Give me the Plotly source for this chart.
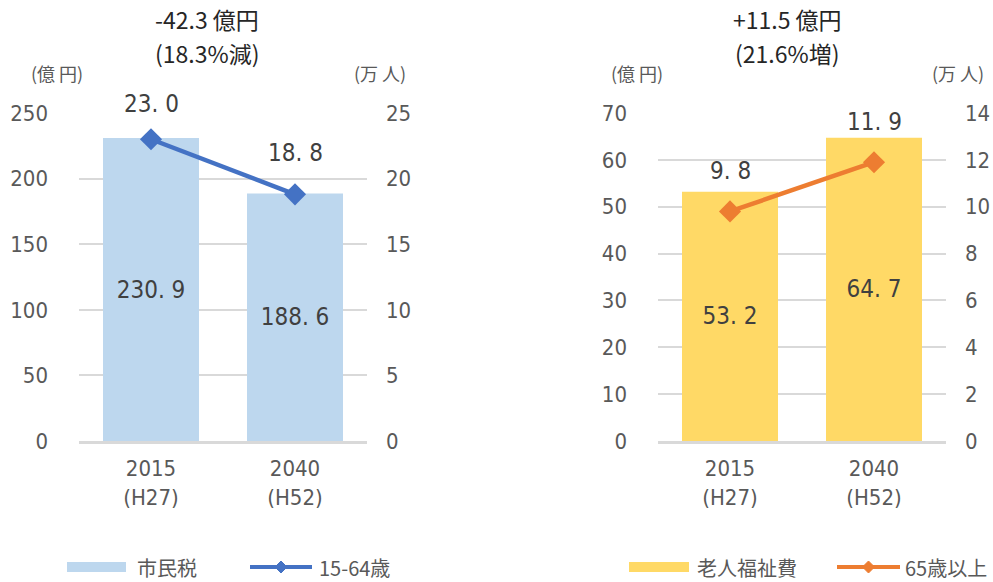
import plotly.graph_objects as go

# ---- data ----
categories = ["2015", "2040"]
category_labels = ["2015<br>(H27)", "2040<br>(H52)"]

tax_revenue = [230.9, 188.6]          # 市民税 (億円)
working_pop = [23.0, 18.8]            # 15-64歳 (万人)
elderly_welfare = [53.2, 64.7]        # 老人福祉費 (億円)
elderly_pop = [9.8, 11.9]             # 65歳以上 (万人)

left_title = ["-42.3 億円", "(18.3%減)"]
right_title = ["+11.5 億円", "(21.6%増)"]

W, H = 993, 582

NARROW = "DejaVu Sans Condensed, Liberation Sans Narrow, Roboto, sans-serif"
CJK = "Noto Sans CJK JP, sans-serif"
TICK_COLOR = "#595959"
LABEL_COLOR = "#404040"
GRID = "#D9D9D9"

BLUE_BAR, BLUE_LINE = "#BDD7EE", "#4472C4"
YELLOW_BAR, ORANGE_LINE = "#FFD966", "#ED7D31"

xpos = list(range(len(categories)))


def fmt(v):
    return f"{v:.1f}".replace(".", ". ")


def px_x(x):
    return x / W


def px_y(y):
    return 1 - y / H


fig = go.Figure()

# left panel: tax revenue vs working-age population
fig.add_trace(go.Bar(
    x=xpos, y=tax_revenue, xaxis="x", yaxis="y", width=2 / 3,
    marker=dict(color=BLUE_BAR, line=dict(width=0)),
    text=[fmt(v) for v in tax_revenue],
    textposition="inside", insidetextanchor="middle",
    textfont=dict(family=NARROW, size=24, color=LABEL_COLOR),
    showlegend=False, hoverinfo="skip",
))
fig.add_trace(go.Scatter(
    x=xpos, y=working_pop, xaxis="x", yaxis="y2",
    mode="lines+markers", line=dict(color=BLUE_LINE, width=4.5),
    marker=dict(symbol="diamond", size=17, color=BLUE_LINE),
    showlegend=False, hoverinfo="skip",
))

# right panel: elderly welfare cost vs elderly population
fig.add_trace(go.Bar(
    x=xpos, y=elderly_welfare, xaxis="x2", yaxis="y3", width=2 / 3,
    marker=dict(color=YELLOW_BAR, line=dict(width=0)),
    text=[fmt(v) for v in elderly_welfare],
    textposition="inside", insidetextanchor="middle",
    textfont=dict(family=NARROW, size=24, color=LABEL_COLOR),
    showlegend=False, hoverinfo="skip",
))
fig.add_trace(go.Scatter(
    x=xpos, y=elderly_pop, xaxis="x2", yaxis="y4",
    mode="lines+markers", line=dict(color=ORANGE_LINE, width=4.5),
    marker=dict(symbol="diamond", size=17, color=ORANGE_LINE),
    showlegend=False, hoverinfo="skip",
))

y_top, y_bot = 113, 441
ydom = [px_y(y_bot), px_y(y_top)]
tickfont = dict(family=NARROW, size=22, color=TICK_COLOR)

xcommon = dict(
    range=[-0.5, len(categories) - 0.5], tickvals=xpos, ticktext=category_labels,
    tickangle=0, tickfont=tickfont, showgrid=False, zeroline=False,
    showline=True, linecolor=GRID, linewidth=2.5, ticks="",
    ticklabelstandoff=6, automargin=False, fixedrange=True,
)
yprim = dict(
    domain=ydom, showgrid=True, gridcolor=GRID, gridwidth=1.5,
    zeroline=False, tickfont=tickfont, ticks="", ticklabelstandoff=30,
    automargin=False, fixedrange=True,
)
ysec = dict(
    domain=ydom, side="right", showgrid=False, zeroline=False,
    tickfont=tickfont, ticks="", ticklabelstandoff=18,
    automargin=False, fixedrange=True,
)

fig.update_layout(
    width=W, height=H,
    margin=dict(l=0, r=0, t=0, b=0, pad=0),
    paper_bgcolor="white", plot_bgcolor="rgba(0,0,0,0)",
    xaxis=dict(domain=[px_x(79), px_x(367)], anchor="y", **xcommon),
    yaxis=dict(anchor="x", range=[0, 250], dtick=50, **yprim),
    yaxis2=dict(anchor="x", overlaying="y", range=[0, 25], dtick=5, **ysec),
    xaxis2=dict(domain=[px_x(658), px_x(946)], anchor="y3", **xcommon),
    yaxis3=dict(anchor="x2", range=[0, 70], dtick=10, **yprim),
    yaxis4=dict(anchor="x2", overlaying="y3", range=[0, 14], dtick=2, **ysec),
)

annotations = []

# value labels above the line markers
for xa, ya, vals, shifts in (("x", "y2", working_pop, [35, 41]),
                             ("x2", "y4", elderly_pop, [40, 40])):
    for xp, v, s in zip(xpos, vals, shifts):
        annotations.append(dict(
            x=xp, y=v, xref=xa, yref=ya, text=fmt(v), showarrow=False,
            yshift=s, font=dict(family=NARROW, size=24, color=LABEL_COLOR),
        ))

# panel titles (two lines each)
for cx, lines in ((207, left_title), (787, right_title)):
    for cy, t in zip((19, 53), lines):
        annotations.append(dict(
            x=px_x(cx), y=px_y(cy), xref="paper", yref="paper", text=t,
            showarrow=False, xanchor="center", yanchor="middle",
            font=dict(family=CJK, size=23, color="#262626"),
        ))

# axis unit labels
for cx, t in ((57, "(億 円)"), (380, "(万 人)"), (637, "(億 円)"), (958, "(万 人)")):
    annotations.append(dict(
        x=px_x(cx), y=px_y(73), xref="paper", yref="paper", text=t,
        showarrow=False, xanchor="center", yanchor="middle",
        font=dict(family=CJK, size=18, color=TICK_COLOR),
    ))

# legends
shapes = []
legend_y = 567
bar_keys = ((67, 126, BLUE_BAR, "市民税", 135), (629, 689, YELLOW_BAR, "老人福祉費", 695))
line_keys = ((250, 312, BLUE_LINE, "15-64歳", 317), (837, 900, ORANGE_LINE, "65歳以上", 903))
for x0, x1, col, label, tx in bar_keys:
    shapes.append(dict(
        type="rect", xref="paper", yref="paper",
        x0=px_x(x0), x1=px_x(x1), y0=px_y(legend_y + 5), y1=px_y(legend_y - 5),
        fillcolor=col, line=dict(width=0),
    ))
    annotations.append(dict(
        x=px_x(tx), y=px_y(legend_y), xref="paper", yref="paper", text=label,
        showarrow=False, xanchor="left", yanchor="middle",
        font=dict(family=CJK, size=20, color=TICK_COLOR),
    ))
for x0, x1, col, label, tx in line_keys:
    shapes.append(dict(
        type="line", xref="paper", yref="paper",
        x0=px_x(x0), x1=px_x(x1), y0=px_y(legend_y), y1=px_y(legend_y),
        line=dict(color=col, width=4),
    ))
    cx, r = (x0 + x1) / 2, 6
    path = (f"M{px_x(cx - r)},{px_y(legend_y)} L{px_x(cx)},{px_y(legend_y - r)} "
            f"L{px_x(cx + r)},{px_y(legend_y)} L{px_x(cx)},{px_y(legend_y + r)} Z")
    shapes.append(dict(
        type="path", xref="paper", yref="paper", path=path,
        fillcolor=col, line=dict(color=col, width=1),
    ))
    annotations.append(dict(
        x=px_x(tx), y=px_y(legend_y), xref="paper", yref="paper", text=label,
        showarrow=False, xanchor="left", yanchor="middle",
        font=dict(family=CJK, size=20, color=TICK_COLOR),
    ))

fig.update_layout(annotations=annotations, shapes=shapes)

fig.write_html("out.html")
